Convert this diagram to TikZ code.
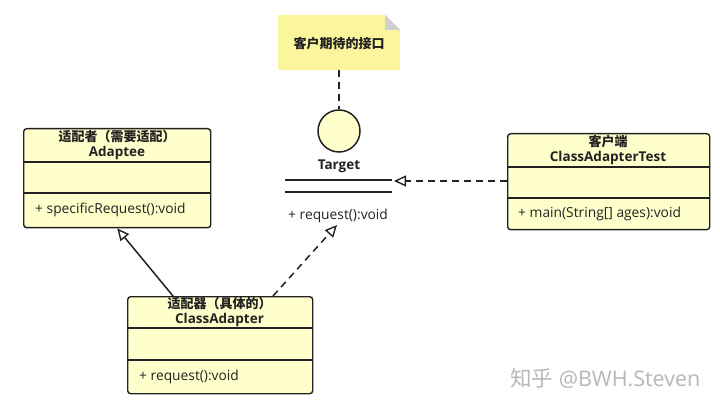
\documentclass[tikz,border=0pt]{standalone}
\usepackage{fontspec}
\setmainfont{Open Sans}
\newfontfamily\cjk{Noto Sans CJK SC}
\usetikzlibrary{arrows.meta,calc}
\definecolor{boxfill}{HTML}{FFFFCC}
\definecolor{notefill}{HTML}{FBF59E}
\definecolor{foldgray}{HTML}{CFCFCF}
\definecolor{edge}{HTML}{222222}
\tikzset{
  classbox/.style={draw=edge, line width=1.4pt, fill=boxfill, rounded corners=3pt, inner sep=0pt, anchor=north west},
  sepline/.style={draw=edge, line width=1.4pt},
  title/.style={font=\bfseries\fontsize{13.5}{15.5}\selectfont, text=edge, align=center, inner sep=0pt},
  member/.style={font=\fontsize{13.8}{16}\selectfont, text=edge, anchor=west, inner sep=0pt},
  opentip/.style={-{Triangle[open, length=12pt, width=11pt, line width=1.4pt]}},
  gen/.style={draw=edge, line width=1.5pt, opentip},
  real/.style={draw=edge, line width=1.5pt, dash pattern=on 7pt off 5pt, opentip},
  notelink/.style={draw=edge, line width=1.5pt, dash pattern=on 7pt off 5pt},
}
\begin{document}
\begin{tikzpicture}[x=1pt,y=-1pt]
\useasboundingbox[fill=white] (0,0) rectangle (720,406);

% Adaptee
\node[classbox, minimum width=187pt, minimum height=99pt] (adaptee) at (23,128) {};
\draw[sepline] (23,162) -- (210,162);
\draw[sepline] (23,193) -- (210,193);
\node[title] (adapteeT) at (117,145) {{\cjk\fontsize{13}{15}\selectfont 适配者（需要适配）}\\Adaptee};
\node[member] (adapteeM) at (35,210) {+ specificRequest():void};

% ClassAdapterTest
\node[classbox, minimum width=202pt, minimum height=96pt] (client) at (507,133) {};
\draw[sepline] (507,167) -- (709,167);
\draw[sepline] (507,198) -- (709,198);
\node[title] (clientT) at (608,150) {{\cjk\fontsize{13}{15}\selectfont 客户端}\\ClassAdapterTest};
\node[member] (clientM) at (518,214) {+ main(String[] ages):void};

% ClassAdapter
\node[classbox, minimum width=185pt, minimum height=97pt] (adapter) at (127,296) {};
\draw[sepline] (127,328) -- (312,328);
\draw[sepline] (127,360) -- (312,360);
\node[title] (adapterT) at (219.5,312) {{\cjk\fontsize{13}{15}\selectfont 适配器（具体的）}\\ClassAdapter};
\node[member] (adapterM) at (139,377) {+ request():void};

% Note
\fill[notefill] (278,15) -- (385,15) -- (400,30) -- (400,70) -- (278,70) -- cycle;
\fill[foldgray] (385,15) -- (385,30) -- (400,30) -- cycle;
\node[title] (note) at (339,44) {{\cjk\fontsize{13}{15}\selectfont 客户期待的接口}};

% Target interface
\node[draw=edge, line width=1.5pt, fill=boxfill, circle, minimum size=42pt, inner sep=0pt] (lolli) at (339,131) {};
\node[title] (targetT) at (339,166) {Target};
\draw[sepline] (285,180) -- (392,180);
\draw[sepline] (285,192) -- (392,192);
\node[member] (targetM) at (288,216) {+ request():void};
\coordinate (noteb) at (339,70);
\coordinate (ttip) at (394,181);
\coordinate (rtip) at (337,225);

% connectors
\draw[notelink] (noteb) -- (lolli.north);
\draw[real] (client.west |- 0,181) -- (ttip);
\coordinate (a1) at (173,296);
\coordinate (a2) at (273,296);
\draw[gen] (a1) -- (adaptee.south);
\draw[real] (a2) -- (rtip);

% watermark
\node[font=\fontsize{21.5}{25}\selectfont, text=black!28, anchor=west, inner sep=0pt] (wm) at (510,378) {{\cjk 知乎} @BWH.Steven};
\end{tikzpicture}
\end{document}
